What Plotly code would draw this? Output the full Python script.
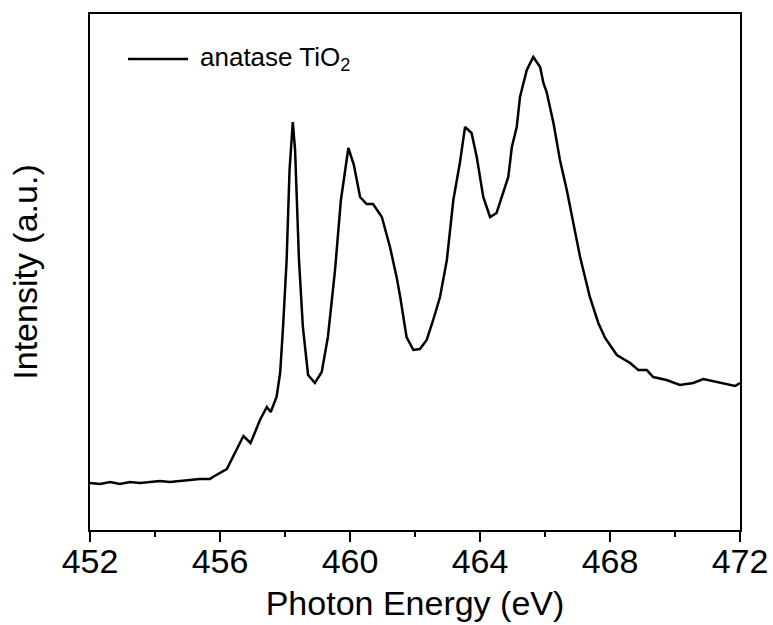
import plotly.graph_objects as go

energy = [452.00, 452.31, 452.62, 452.92, 453.23, 453.54, 453.85, 454.15, 454.46,
          454.77, 455.08, 455.38, 455.69, 455.78,
          456.21, 456.49, 456.72, 456.94, 457.23, 457.44, 457.56, 457.74, 457.85,
          457.94, 458.05, 458.14, 458.24, 458.31, 458.43, 458.55, 458.71, 458.92,
          459.13, 459.32, 459.54, 459.72, 459.95, 460.12, 460.31, 460.51, 460.71,
          460.98, 461.23, 461.44, 461.54, 461.74, 461.95, 462.15, 462.36, 462.56,
          462.77, 462.98, 463.18, 463.38, 463.54, 463.74, 463.90, 464.10, 464.31,
          464.51, 464.72, 464.87, 464.98, 465.13, 465.23, 465.44, 465.64, 465.85,
          465.95, 466.05, 466.26, 466.46, 466.67, 466.87, 467.08, 467.23, 467.38,
          467.64, 467.85, 468.21, 468.62, 468.87, 469.13, 469.33, 469.74, 470.15,
          470.56, 470.87, 471.28, 471.59, 471.85, 472.00]
intensity = [45, 44, 46, 44, 46, 45, 46, 47, 46,
             47, 48, 49, 49, 51,
             59, 78, 92, 85, 108, 121, 116, 131, 155,
             201, 268, 358, 406, 378, 268, 201, 153, 145,
             156, 191, 258, 328, 380, 363, 331, 324, 324,
             311, 281, 250, 232, 191, 178, 179, 188, 208,
             231, 268, 328, 365, 401, 395, 371, 331, 311,
             315, 335, 351, 381, 401, 431, 458, 471, 461,
             445, 436, 405, 368, 338, 305, 271, 251, 231,
             205, 190, 173, 165, 158, 158, 151, 148, 143,
             145, 149, 146, 144, 142, 145]

x_ticks = [452, 456, 460, 464, 468, 472]
x_minor_ticks = [454, 458, 462, 466, 470]
series_name = "anatase TiO<sub>2</sub>"
x_title = "Photon Energy (eV)"
y_title = "Intensity (a.u.)"

FONT = "Liberation Sans, Arial, sans-serif"

fig = go.Figure()
fig.add_trace(go.Scatter(x=energy, y=intensity, mode="lines",
                         line=dict(color="black", width=2.5),
                         name=series_name, showlegend=False))

# legend drawn manually (longer line sample as in reference)
fig.add_shape(type="line", xref="paper", yref="paper",
              x0=0.0585, x1=0.1508, y0=0.913, y1=0.913,
              line=dict(color="black", width=2.5))
fig.add_annotation(xref="paper", yref="paper", x=0.166, y=0.913,
                   xanchor="left", yanchor="middle", showarrow=False,
                   text=series_name, font=dict(family=FONT, size=26, color="black"))

fig.update_layout(
    width=773, height=625,
    margin=dict(l=90, r=33, t=14, b=95),
    paper_bgcolor="white", plot_bgcolor="white",
    font=dict(family=FONT, color="black"),
)
fig.update_xaxes(range=[452, 472], tickmode="array", tickvals=x_ticks,
                 ticktext=[str(v) for v in x_ticks], automargin=False,
                 ticks="outside", ticklen=10, tickwidth=2, tickcolor="black",
                 ticklabelstandoff=-10,
                 minor=dict(tickmode="array", tickvals=x_minor_ticks,
                            ticks="outside", ticklen=5, tickwidth=2, tickcolor="black"),
                 showline=True, linecolor="black", linewidth=2, mirror=True,
                 showgrid=False, zeroline=False,
                 tickfont=dict(family=FONT, size=34),
                 title=dict(text=x_title, font=dict(family=FONT, size=34), standoff=12))
fig.update_yaxes(range=[-2, 514], showticklabels=False, ticks="", automargin=False,
                 showline=True, linecolor="black", linewidth=2, mirror=True,
                 showgrid=False, zeroline=False,
                 title=dict(text=y_title, font=dict(family=FONT, size=34), standoff=40))

fig.write_html("out.html")
